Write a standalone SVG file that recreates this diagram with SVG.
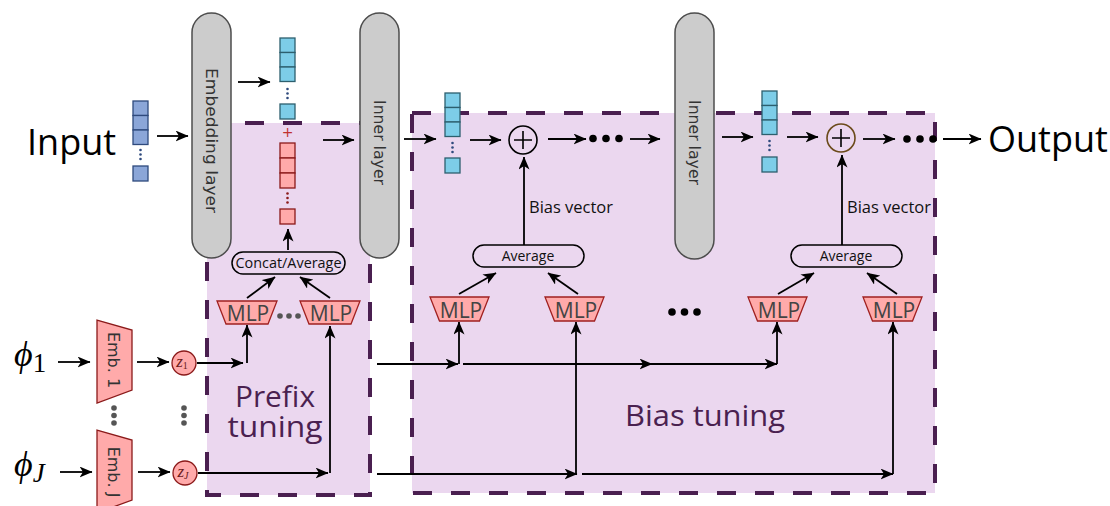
<svg xmlns="http://www.w3.org/2000/svg" width="1110" height="506" viewBox="0 0 1110 506">
<defs>
<marker id="ah" viewBox="0 0 13 11" refX="12.5" refY="5.5" markerWidth="13" markerHeight="11" markerUnits="userSpaceOnUse" orient="auto"><path d="M0,0 L13,5.5 L0,11 L3.5,5.5 Z" fill="#000"/></marker>
<style>
.region{fill:#ebd7ef;stroke:none}
.dash{fill:none;stroke:#4a1f50;stroke-width:4;stroke-dasharray:19 19}
.layer{fill:#cccccc;stroke:#4d4d4d;stroke-width:1.5}
.ltxt{font-family:"DejaVu Sans",sans-serif;font-size:16px;fill:#333;text-anchor:middle}
.arr{fill:none;stroke:#000;stroke-width:1.8;marker-end:url(#ah)}
.bsq{fill:#8ba6d8;stroke:#2f4a7d;stroke-width:1.3}
.csq{fill:#7dcde8;stroke:#2d5f6e;stroke-width:1.3}
.rsq{fill:#ffaaaa;stroke:#8b1a1a;stroke-width:1.3}
.bdot{fill:#2f4a7d}
.rdot{fill:#8b1a1a}
.mlp{fill:#ffaaaa;stroke:#a02020;stroke-width:1.3}
.mtxt{font-family:"Open Sans",sans-serif;font-size:21px;fill:#444;text-anchor:middle}
.pill{fill:none;stroke:#000;stroke-width:1.5}
.ptxt{font-family:"Open Sans",sans-serif;font-size:14px;fill:#111;text-anchor:middle}
.btxt{font-family:"Open Sans",sans-serif;font-size:16px;fill:#111}
.big{font-family:"Open Sans",sans-serif;font-size:36px;fill:#000}
.reg{font-family:"Open Sans",sans-serif;font-size:30px;fill:#4a2150;text-anchor:middle}
.zc{fill:#ffaaaa;stroke:#8b1a1a;stroke-width:1.3}
.ztxt{font-family:"Liberation Serif",serif;font-style:italic;font-size:17px;fill:#6b1a1a;text-anchor:middle}
.gdot{fill:#555}
.kdot{fill:#000}
.emb{fill:#ffaaaa;stroke:#8b1a1a;stroke-width:1.3}
.etxt{font-family:"DejaVu Sans",sans-serif;font-size:16px;fill:#333;text-anchor:middle}
.phi{font-family:"Liberation Serif","DejaVu Serif",serif;fill:#000}
</style>
</defs>
<rect width="1110" height="506" fill="#fff"/>

<g id="prefix-region">
<rect class="region" x="207" y="123" width="163" height="372"/>
<rect class="dash" x="207" y="123" width="163" height="372"/>
</g>
<g id="bias-region">
<rect class="region" x="412" y="113" width="523" height="380"/>
<rect class="dash" x="412" y="113" width="523" height="380"/>
</g>

<g id="embedding-layer">
<rect class="layer" x="192" y="13" width="39" height="245" rx="19.5"/>
<text class="ltxt" transform="translate(211.5,140.5) rotate(90)" y="5.5" textLength="145" lengthAdjust="spacingAndGlyphs">Embedding layer</text>
</g>
<g id="inner-layer-1">
<rect class="layer" x="360" y="13" width="39" height="245" rx="19.5"/>
<text class="ltxt" transform="translate(379.5,142.5) rotate(90)" y="5.5" textLength="85" lengthAdjust="spacingAndGlyphs">Inner layer</text>
</g>
<g id="inner-layer-2">
<rect class="layer" x="675" y="13" width="39" height="246" rx="19.5"/>
<text class="ltxt" transform="translate(694.5,142.5) rotate(90)" y="5.5" textLength="85" lengthAdjust="spacingAndGlyphs">Inner layer</text>
</g>

<g id="input">
<text class="big" x="27" y="155">Input</text>
<rect class="bsq" x="133" y="101" width="15" height="14.5"/>
<rect class="bsq" x="133" y="115.5" width="15" height="14.5"/>
<rect class="bsq" x="133" y="130" width="15" height="14.5"/>
<circle class="bdot" cx="140.5" cy="150" r="1.3"/><circle class="bdot" cx="140.5" cy="154.5" r="1.3"/><circle class="bdot" cx="140.5" cy="159" r="1.3"/>
<rect class="bsq" x="133" y="166" width="15" height="15"/>
</g>

<g id="embedded-vector">
<rect class="csq" x="280" y="38" width="15" height="14.5"/>
<rect class="csq" x="280" y="52.5" width="15" height="14.5"/>
<rect class="csq" x="280" y="67" width="15" height="14.5"/>
<circle class="bdot" cx="287.5" cy="89" r="1.3"/><circle class="bdot" cx="287.5" cy="93.5" r="1.3"/><circle class="bdot" cx="287.5" cy="98" r="1.3"/>
<rect class="csq" x="280" y="104" width="15" height="15"/>
</g>

<g id="prefix-vector">
<text x="287.5" y="137" font-family="DejaVu Sans,sans-serif" font-size="14" fill="#c03030" text-anchor="middle">+</text>
<rect class="rsq" x="280" y="143" width="15" height="15"/>
<rect class="rsq" x="280" y="158" width="15" height="15"/>
<rect class="rsq" x="280" y="173" width="15" height="15"/>
<circle class="rdot" cx="287.5" cy="193.5" r="1.3"/><circle class="rdot" cx="287.5" cy="198" r="1.3"/><circle class="rdot" cx="287.5" cy="202.5" r="1.3"/>
<rect class="rsq" x="280" y="209" width="15" height="15"/>
</g>

<g id="hidden-vector-1">
<rect class="csq" x="445" y="93" width="15" height="14.5"/>
<rect class="csq" x="445" y="107.5" width="15" height="14.5"/>
<rect class="csq" x="445" y="122" width="15" height="14.5"/>
<circle class="bdot" cx="452.5" cy="143" r="1.3"/><circle class="bdot" cx="452.5" cy="147.5" r="1.3"/><circle class="bdot" cx="452.5" cy="152" r="1.3"/>
<rect class="csq" x="445" y="158" width="15" height="15"/>
</g>

<g id="hidden-vector-2">
<rect class="csq" x="762" y="91" width="15" height="14.5"/>
<rect class="csq" x="762" y="105.5" width="15" height="14.5"/>
<rect class="csq" x="762" y="120" width="15" height="14.5"/>
<circle class="bdot" cx="769.5" cy="141" r="1.3"/><circle class="bdot" cx="769.5" cy="145.5" r="1.3"/><circle class="bdot" cx="769.5" cy="150" r="1.3"/>
<rect class="csq" x="762" y="157" width="15" height="15"/>
</g>

<g id="add-1">
<circle cx="523" cy="140" r="14" fill="none" stroke="#000" stroke-width="1.6"/>
<path d="M514,140 H532 M523,131 V149" stroke="#000" stroke-width="1.6"/>
</g>
<g id="add-2">
<circle cx="841" cy="138" r="14" fill="none" stroke="#6b4a1a" stroke-width="1.6"/>
<path d="M832,138 H850 M841,129 V147" stroke="#000" stroke-width="1.6"/>
</g>

<g id="output">
<text class="big" x="988" y="152">Output</text>
</g>

<g id="concat-average">
<rect class="pill" x="232" y="252" width="113" height="22" rx="11"/>
<text class="ptxt" x="288.5" y="268" textLength="106" lengthAdjust="spacingAndGlyphs">Concat/Average</text>
</g>
<g id="average-1">
<rect class="pill" x="473" y="245" width="111" height="22" rx="11"/>
<text class="ptxt" x="528" y="261">Average</text>
</g>
<g id="average-2">
<rect class="pill" x="791" y="245" width="111" height="22" rx="11"/>
<text class="ptxt" x="846" y="261">Average</text>
</g>

<g id="mlp-p1"><path class="mlp" d="M217,301 H277 L268,324 H226 Z"/><text class="mtxt" x="248" y="321">MLP</text></g>
<g id="mlp-p2"><path class="mlp" d="M300,301 H360 L351,324 H309 Z"/><text class="mtxt" x="331" y="321">MLP</text></g>
<g id="mlp-b1"><path class="mlp" d="M430,297 H489 L479.5,321 H439.5 Z"/><text class="mtxt" x="461" y="318">MLP</text></g>
<g id="mlp-b2"><path class="mlp" d="M545,297 H604 L594.5,321 H554.5 Z"/><text class="mtxt" x="576" y="318">MLP</text></g>
<g id="mlp-b3"><path class="mlp" d="M748,297 H807 L797.5,321 H757.5 Z"/><text class="mtxt" x="779" y="318">MLP</text></g>
<g id="mlp-b4"><path class="mlp" d="M863,297 H922 L912.5,321 H872.5 Z"/><text class="mtxt" x="894" y="318">MLP</text></g>

<g id="emb-1">
<path class="emb" d="M97,320 L132,330 L132,390 L97,403 Z"/>
<text class="etxt" transform="translate(113,360) rotate(90)" y="5.5">Emb. 1</text>
</g>
<g id="emb-J">
<path class="emb" d="M97,430 L132,440 L132,500 L97,513 Z"/>
<text class="etxt" transform="translate(113,472) rotate(90)" y="5.5">Emb. J</text>
</g>

<g id="phi-1"><text class="phi" x="14" y="366" font-size="36" font-style="italic">ϕ<tspan font-style="normal" font-size="27" dy="6">1</tspan></text></g>
<g id="phi-J"><text class="phi" x="14" y="476" font-size="36" font-style="italic">ϕ<tspan font-size="27" dy="6">J</tspan></text></g>

<g id="z1"><circle class="zc" cx="184" cy="363" r="12"/><text class="ztxt" x="182" y="367">z<tspan font-style="normal" font-size="10" dy="2">1</tspan></text></g>
<g id="zJ"><circle class="zc" cx="185" cy="473" r="12"/><text class="ztxt" x="183" y="477">z<tspan font-size="10" dy="2">J</tspan></text></g>

<g id="ellipses">
<circle class="gdot" cx="114" cy="408" r="2.8"/><circle class="gdot" cx="114" cy="415.5" r="2.8"/><circle class="gdot" cx="114" cy="423" r="2.8"/>
<circle class="gdot" cx="184" cy="408" r="2.8"/><circle class="gdot" cx="184" cy="415.5" r="2.8"/><circle class="gdot" cx="184" cy="423" r="2.8"/>
<circle class="gdot" cx="280" cy="316" r="2.8"/><circle class="gdot" cx="289" cy="316" r="2.8"/><circle class="gdot" cx="298" cy="316" r="2.8"/>
<circle class="kdot" cx="672" cy="312" r="3.8"/><circle class="kdot" cx="684.5" cy="312" r="3.8"/><circle class="kdot" cx="697" cy="312" r="3.8"/>
<circle class="kdot" cx="593" cy="138.5" r="3.8"/><circle class="kdot" cx="606" cy="138.5" r="3.8"/><circle class="kdot" cx="619" cy="138.5" r="3.8"/>
<circle class="kdot" cx="907" cy="139" r="3.8"/><circle class="kdot" cx="920" cy="139" r="3.8"/><circle class="kdot" cx="933" cy="139" r="3.8"/>
</g>

<g id="labels">
<text class="reg" x="275" y="407" textLength="80" lengthAdjust="spacingAndGlyphs">Prefix</text>
<text class="reg" x="275" y="437" textLength="95" lengthAdjust="spacingAndGlyphs">tuning</text>
<text class="reg" x="705" y="426" font-size="32" textLength="160" lengthAdjust="spacingAndGlyphs">Bias tuning</text>
<text class="btxt" x="529" y="213" textLength="84" lengthAdjust="spacingAndGlyphs">Bias vector</text>
<text class="btxt" x="847" y="213" textLength="84" lengthAdjust="spacingAndGlyphs">Bias vector</text>
</g>

<g id="connectors">
<path class="arr" d="M157,136 H188"/>
<path class="arr" d="M238,82 H270"/>
<path class="arr" d="M288,250 V229"/>
<path class="arr" d="M323,140 H354"/>
<path class="arr" d="M404,139 H436"/>
<path class="arr" d="M470,140 H501"/>
<path class="arr" d="M548,139 H586"/>
<path class="arr" d="M630,139 H660"/>
<path class="arr" d="M722,137 H753"/>
<path class="arr" d="M787,137 H818"/>
<path class="arr" d="M863,139 H895"/>
<path class="arr" d="M943,139 H981"/>
<path class="arr" d="M524,245 V157"/>
<path class="arr" d="M842,245 V155"/>
<path class="arr" d="M247,298 L275,277"/>
<path class="arr" d="M330,298 L300,277"/>
<path class="arr" d="M459,294 L496,273"/>
<path class="arr" d="M578,294 L548,273"/>
<path class="arr" d="M778,294 L814,273"/>
<path class="arr" d="M897,294 L867,273"/>
<path class="arr" d="M58,362 H90"/>
<path class="arr" d="M60,472 H92"/>
<path class="arr" d="M137,362 H169"/>
<path class="arr" d="M138,472 H170"/>
<path class="arr" d="M197,363 H243"/>
<path class="arr" d="M247,363 V325"/>
<path class="arr" d="M198,473 H328"/>
<path class="arr" d="M330,473 V326"/>
<path class="arr" d="M377,364 H458"/>
<path class="arr" d="M459,364 V322"/>
<path class="arr" d="M463,364 H652"/>
<path class="arr" d="M652,364 H777"/>
<path class="arr" d="M777,364 V322"/>
<path class="arr" d="M377,474 H577"/>
<path class="arr" d="M576,474 V322"/>
<path class="arr" d="M582,474 H893"/>
<path class="arr" d="M893,474 V322"/>
</g>
</svg>
